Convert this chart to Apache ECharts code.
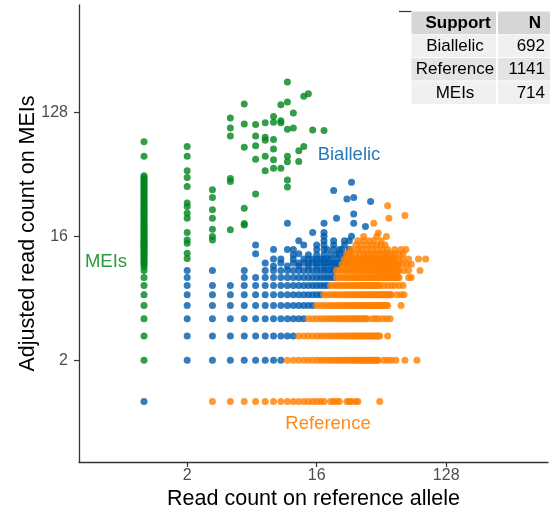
<!DOCTYPE html>
<html>
<head>
<meta charset="utf-8">
<script src="https://cdn.jsdelivr.net/npm/echarts@6/dist/echarts.min.js"></script>
<style>
  html, body { margin: 0; padding: 0; background: #ffffff; }
  #chart { width: 550px; height: 517px; }
</style>
</head>
<body>
<div id="chart"></div>
<script>
// Biallelic sites on integer-like MEI counts: [MEI count, reference counts]
const biallelicRows = [
  [1, [1]],
  [2, [2, 3, 4, 5, 6, 7, 8, 9]],
  [3, [2, 3, 4, 5, 6, 7, 8, 9, 10, 11]],
  [4, [2, 3, 4, 5, 6, 7, 8, 9, 10, 11, 12, 13]],
  [5, [2, 3, 4, 5, 6, 7, 8, 9, 10, 11, 12, 13, 14, 15]],
  [6, [2, 3, 4, 5, 6, 7, 8, 9, 10, 11, 12, 13, 14, 15, 16, 17]],
  [7, [2, 3, 4, 5, 6, 7, 8, 9, 10, 11, 12, 13, 14, 15, 16, 17, 18, 19]],
  [8, [2, 5, 6, 7, 8, 9, 10, 11, 12, 13, 14, 15, 16, 17, 18, 19, 20, 21]],
  [9, [2, 3, 5, 7, 8, 9, 10, 11, 12, 13, 14, 15, 16, 17, 18, 19, 20, 21]],
  [9.7, [8, 10, 12, 14, 16, 18, 20, 22]],
  [10.2, [7, 9, 11, 12, 13, 14, 15, 16, 17, 18, 19, 20, 21, 22, 23]],
  [10.9, [8, 9, 11, 13, 14, 15, 16, 17, 18, 19, 20, 22, 24, 26]],
  [11.7, [11, 14, 16, 18, 20, 22, 25]],
  [11.9, [6, 12, 23]],
  [12.8, [8, 10, 11, 16, 18, 19, 21, 23, 24, 27]],
  [13.8, [6, 13, 16, 18, 21, 25]],
  [14.8, [12, 18, 21, 25, 27]],
  [16, [18, 28]],
  [17, [15, 18]],
  [19.9, [10, 18, 29]]
];
const biallelicOther = [
  [28, 39.6], [21, 34.4], [26, 29.8], [29, 30.6], [38, 28.6],
  [29, 23.2], [22, 21.6], [35, 18.8]
];

// Reference-supported sites: [MEI count, reference counts]
const referenceRows = [
  [1, [3, 4, 5, 6, 7, 8, 9, 10, 11, 12, 13, 14, 15, 16, 17, 18, 20, 21, 22, 23, 26, 27, 28, 30, 31, 44]],
  [2, [10, 11, 12, 13, 14, 15, 16, 17, 18, 19, 20, 21, 22, 23, 24, 25, 26, 27, 28, 29, 30, 31, 32, 33, 34, 35, 36, 37, 38, 39, 40, 41, 42, 43, 47, 50, 53, 57, 66, 80]],
  [3, [12, 13, 14, 15, 16, 17, 18, 19, 20, 21, 22, 23, 24, 25, 26, 27, 28, 29, 30, 31, 32, 33, 34, 35, 36, 37, 38, 39, 40, 41, 42, 43, 44, 50]],
  [4, [14, 15, 16, 17, 18, 19, 20, 21, 22, 23, 24, 25, 26, 27, 28, 29, 30, 31, 32, 33, 34, 35, 36, 39, 41, 43, 46, 49, 52]],
  [5, [16, 17, 18, 19, 20, 21, 22, 23, 24, 25, 26, 27, 28, 29, 30, 31, 32, 33, 34, 35, 36, 37, 38, 39, 40, 41, 42, 43, 44, 45, 46, 47, 48, 49, 50, 62]],
  [6, [18, 19, 20, 21, 22, 23, 24, 25, 26, 27, 28, 29, 30, 31, 32, 33, 34, 35, 36, 37, 38, 39, 40, 41, 42, 43, 44, 45, 46, 47, 48, 49, 50, 51, 52, 53, 58, 62, 65]],
  [7, [20, 21, 22, 23, 24, 25, 26, 27, 28, 29, 30, 31, 32, 33, 34, 35, 36, 37, 38, 39, 40, 41, 42, 43, 44, 47, 50, 53, 56, 60, 64]],
  [8, [22, 23, 24, 25, 26, 27, 28, 29, 30, 31, 32, 33, 34, 35, 36, 37, 38, 39, 40, 41, 42, 43, 44, 45, 46, 47, 48, 49, 50, 51, 52, 53, 54, 55, 56, 57, 58, 59, 60, 70, 73]],
  [9, [22, 23, 24, 25, 26, 27, 28, 29, 30, 31, 32, 33, 34, 35, 36, 37, 38, 39, 40, 41, 42, 43, 44, 45, 46, 47, 48, 49, 50, 51, 52, 53, 54, 55, 56, 57, 58, 59, 60, 65, 70, 84]],
  [10, [24, 25, 26, 27, 28, 29, 30, 31, 32, 33, 34, 35, 36, 37, 38, 39, 40, 41, 42, 43, 44, 45, 46, 47, 48, 49, 50, 51, 52, 53, 54, 55, 56, 57, 58, 59, 60, 64, 68, 73]],
  [10.9, [25, 26, 27, 28, 29, 30, 31, 32, 33, 34, 35, 36, 37, 38, 39, 40, 41, 42, 43, 44, 45, 46, 47, 48, 49, 50, 51, 52, 53, 54, 55, 56, 60, 64, 70, 82, 92]],
  [11.9, [26, 27, 28, 30, 32, 34, 36, 38, 40, 42, 44, 46, 48, 50, 53, 56, 60, 64]],
  [12.8, [28, 31, 33, 36, 39, 42, 46, 50, 56, 62, 67]],
  [13.8, [30, 33, 36, 39, 42, 45, 48]],
  [14.8, [31, 34, 37, 40, 45]]
];
const referenceOther = [
  [34, 15.9], [42, 15.9], [49, 15.9], [43, 16.9], [40, 19.9],
  [50, 26.6], [51, 21.6], [66, 22.6]
];

// MEI-supported sites stacked at low reference counts: [reference count, MEI counts]
const meiColumns = [
  [1, [2, 3, 4, 5, 6, 7, 8, 9, 9.6, 9.9, 10.2, 10.5, 10.8, 11.1, 11.4, 11.7, 12, 12.3, 12.6, 12.9, 13.2, 13.5, 13.8, 14.1, 14.4, 14.7, 15, 15.4, 15.8, 16.2, 16.6, 17, 17.4, 17.8, 18.2, 18.7, 19.2, 19.7, 20.2, 20.8, 21.4, 22, 22.6, 23.2, 23.8, 24.4, 25, 25.7, 26.4, 27.1, 27.8, 28.5, 29.3, 30.1, 31, 31.9, 32.8, 33.7, 34.6, 35.5, 36.5, 37.5, 38.5, 39.5, 40.6, 41.7, 42.8, 44, 61, 78]],
  [2, [11, 12, 14.2, 15, 17, 21.6, 23.5, 26.3, 27.9, 36.8, 42.8, 48, 61, 72]],
  [3, [15, 15.9, 18, 21.6, 24.9, 30.6, 34.8]]
];
const meiOther = [
  [4, 116], [4, 98], [4, 86], [4, 42], [4, 40], [4, 17.8],
  [5, 147], [5, 105], [5, 71], [5, 25.6], [5, 19.3], [5, 19.8],
  [6, 104], [6, 86], [6, 73], [6, 58], [6, 32.5],
  [7, 107], [7, 84], [7, 80], [7, 61], [7, 48],
  [8, 119], [8, 108], [8, 81], [8, 69], [8, 57.6], [8, 50],
  [9, 145], [9, 111], [9, 107], [9, 50],
  [10, 212], [10, 152], [10, 96], [10, 61], [10, 55.7], [10, 41], [10, 36.5],
  [11, 126], [11, 98], [12, 67], [12, 56], [13, 167], [13, 72],
  [14, 174], [15, 95], [18, 94]
];

// Summary table
const tableHeader = ['Support', 'N'];
const supportNames = ['Biallelic', 'Reference', 'MEIs'];
const supportCounts = [692, 1141, 714];

const tickValues = [2, 16, 128];

function fromRows(rows) {
  const pts = [];
  rows.forEach(([y, xs]) => xs.forEach(x => pts.push([x, y])));
  return pts;
}
function fromColumns(cols) {
  const pts = [];
  cols.forEach(([x, ys]) => ys.forEach(y => pts.push([x, y])));
  return pts;
}

const COLORS = { biallelic: '#005bae', reference: '#ff7f00', mei: '#00861c' };
const FONT = '"Liberation Sans", Arial, Helvetica, sans-serif';

const chart = echarts.init(document.getElementById('chart'), null, { renderer: 'canvas' });

function pointSeries(name, data, color) {
  return {
    type: 'scatter', name, data,
    symbol: 'circle', symbolSize: 7,
    itemStyle: { color, opacity: 0.8 },
    silent: true, animation: false
  };
}

// Table cells
const tableLeft = 411.5, colSplit = 497, tableRight = 550;
const rowTops = [11.5, 34.5, 58, 81.5], rowH = 22.5;
const rowFills = ['#d6d6d6', '#f0f0f0', '#e4e4e4', '#f0f0f0'];
const tableGraphics = [];
tableGraphics.push({ type: 'line', shape: { x1: 399, y1: 11.5, x2: tableLeft, y2: 11.5 }, style: { stroke: '#333', lineWidth: 1.2 } });
rowTops.forEach((top, i) => {
  tableGraphics.push({ type: 'rect', shape: { x: tableLeft, y: top, width: colSplit - tableLeft - 1, height: rowH }, style: { fill: rowFills[i] } });
  tableGraphics.push({ type: 'rect', shape: { x: colSplit + 1, y: top, width: tableRight - colSplit - 1, height: rowH }, style: { fill: rowFills[i] } });
});
const cy = i => rowTops[i] + rowH / 2 + 0.5;
tableGraphics.push({ type: 'text', x: 458, y: cy(0), style: { text: tableHeader[0], font: 'bold 17px ' + FONT, fill: '#000', textAlign: 'center', textVerticalAlign: 'middle' } });
tableGraphics.push({ type: 'text', x: 535, y: cy(0), style: { text: tableHeader[1], font: 'bold 17px ' + FONT, fill: '#000', textAlign: 'center', textVerticalAlign: 'middle' } });
supportNames.forEach((nm, i) => {
  tableGraphics.push({ type: 'text', x: 455, y: cy(i + 1), style: { text: nm, font: '17px ' + FONT, fill: '#000', textAlign: 'center', textVerticalAlign: 'middle' } });
  tableGraphics.push({ type: 'text', x: 545, y: cy(i + 1), style: { text: String(supportCounts[i]), font: '17px ' + FONT, fill: '#000', textAlign: 'right', textVerticalAlign: 'middle' } });
});

const groupLabels = [
  { text: 'Biallelic', x: 349, y: 155, fill: '#2a7ab9' },
  { text: 'Reference', x: 328, y: 424, fill: '#ff8a1a' },
  { text: 'MEIs', x: 106, y: 262, fill: '#2a9a3a' }
].map(l => ({ type: 'text', x: l.x, y: l.y, z: 10, style: { text: l.text, font: '18.5px ' + FONT, fill: l.fill, textAlign: 'center', textVerticalAlign: 'middle' } }));

const axisCommon = {
  type: 'log', logBase: 2,
  nameLocation: 'middle',
  nameMoveOverlap: false,
  nameTextStyle: { fontSize: 21.5, color: '#000', fontFamily: FONT },
  axisLine: { show: true, lineStyle: { color: '#333', width: 1.3 } },
  axisTick: { show: true, customValues: tickValues, length: 5, lineStyle: { color: '#333', width: 1.2 } },
  axisLabel: { customValues: tickValues, fontSize: 16, color: '#4d4d4d', fontFamily: FONT },
  splitLine: { show: false },
  minorTick: { show: false },
  minorSplitLine: { show: false }
};

chart.setOption({
  animation: false,
  backgroundColor: '#ffffff',
  grid: { left: 79, right: 2, top: 5, bottom: 55, containLabel: false, outerBoundsMode: 'none' },
  xAxis: Object.assign({}, axisCommon, {
    min: Math.pow(2, -1.506), max: Math.pow(2, 9.358),
    name: 'Read count on reference allele', nameGap: 26,
    axisLabel: Object.assign({}, axisCommon.axisLabel, { margin: 6 })
  }),
  yAxis: Object.assign({}, axisCommon, {
    min: Math.pow(2, -1.464), max: Math.pow(2, 9.593),
    name: 'Adjusted read count on MEIs', nameGap: 40, nameRotate: 90,
    axisLabel: Object.assign({}, axisCommon.axisLabel, { margin: 11 })
  }),
  series: [
    pointSeries('Biallelic', fromRows(biallelicRows).concat(biallelicOther), COLORS.biallelic),
    pointSeries('Reference', fromRows(referenceRows).concat(referenceOther), COLORS.reference),
    pointSeries('MEIs', fromColumns(meiColumns).concat(meiOther), COLORS.mei)
  ],
  graphic: groupLabels.concat(tableGraphics)
});
</script>
</body>
</html>
